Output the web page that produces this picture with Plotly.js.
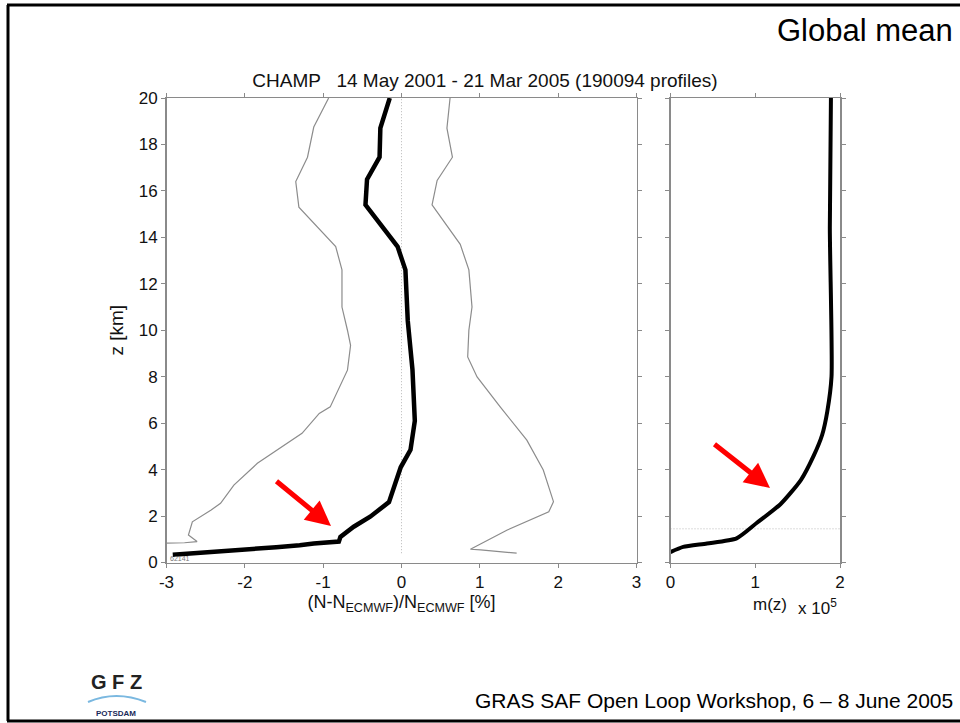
<!DOCTYPE html>
<html>
<head>
<meta charset="utf-8">
<script src="https://cdn.plot.ly/plotly-3.0.1.min.js"></script>
<style>html,body{margin:0;padding:0;background:#fff;}#chart{width:960px;height:723px;}</style>
</head>
<body>
<div id="chart"></div>
<script>
// ---- data ----
// mean relative refractivity deviation (thick line)
const meanZ = [20, 18.7, 17.45, 16.5, 15.4, 13.6, 12.6, 10.4, 8.3, 6.1, 4.85, 4.1, 3.4, 2.6, 1.97, 1.54, 1.1, 0.9, 0.82, 0.74, 0.66, 0.58, 0.5, 0.42, 0.33];
const meanX = [-0.15, -0.27, -0.28, -0.44, -0.46, -0.05, 0.05, 0.08, 0.14, 0.17, 0.115, -0.01, -0.08, -0.16, -0.40, -0.61, -0.78, -0.80, -1.12, -1.3, -1.6, -1.95, -2.3, -2.6, -2.92];
// mean minus standard deviation (thin left line)
const lowZ = [20, 18.75, 17.45, 16.4, 15.3, 13.6, 12.6, 11.0, 10.0, 9.35, 8.28, 6.7, 6.42, 5.56, 4.27, 3.33, 2.55, 2.26, 1.75, 1.18, 0.9, 0.85, 0.83];
const lowX = [-0.93, -1.12, -1.20, -1.35, -1.31, -0.84, -0.76, -0.76, -0.69, -0.65, -0.69, -0.91, -1.05, -1.27, -1.84, -2.14, -2.31, -2.43, -2.67, -2.72, -2.61, -2.77, -3.0];
// mean plus standard deviation (thin right line)
const highZ = [20, 18.7, 17.45, 16.45, 15.4, 13.7, 12.6, 11.0, 10.0, 8.85, 7.99, 6.7, 5.27, 3.98, 2.62, 2.18, 1.40, 0.57, 0.54, 0.40];
const highX = [0.62, 0.58, 0.65, 0.455, 0.39, 0.75, 0.86, 0.90, 0.86, 0.845, 0.965, 1.26, 1.60, 1.81, 1.94, 1.88, 1.35, 0.88, 1.01, 1.47];
// number of data m(z), in units of 1e5
const mZ = [20, 14.4, 8.0, 6.5, 5.5, 4.6, 3.56, 2.52, 1.71, 1.04, 0.82, 0.67, 0.45];
const mX = [1.893, 1.88, 1.90, 1.85, 1.79, 1.69, 1.54, 1.30, 1.02, 0.78, 0.43, 0.15, 0.0];
// reference lines
const zeroLineX = [0, 0];
const zeroLineZ = [0.4, 20];
const cutLineX = [0, 2];
const cutLineZ = [1.45, 1.45];
// ticks
const leftTicks = [-3, -2, -1, 0, 1, 2, 3];
const leftTickText = ['-3', '-2', '-1', '0', '1', '2', '3'];
const rightTicks = [0, 1, 2];
const zTicks = [0, 2, 4, 6, 8, 10, 12, 14, 16, 18, 20];

const W = 960, H = 723;
const px = v => v / W;
const py = v => 1 - v / H;
const ff = 'Liberation Sans, Arial, sans-serif';

const axisCommon = {
  showline: true, mirror: 'ticks', linecolor: '#8a8a8a', linewidth: 1.5,
  ticks: 'outside', ticklen: 4, tickcolor: '#8a8a8a', tickwidth: 1,
  showgrid: false, zeroline: false,
  tickfont: {family: ff, size: 17, color: '#111'}
};

const traces = [
  {x: zeroLineX, y: zeroLineZ, xaxis: 'x', yaxis: 'y', mode: 'lines', line: {color: '#b8b8b8', width: 1, dash: '1px,2px'}, hoverinfo: 'skip'},
  {x: lowX, y: lowZ, xaxis: 'x', yaxis: 'y', mode: 'lines', line: {color: '#8c8c8c', width: 1.2}},
  {x: highX, y: highZ, xaxis: 'x', yaxis: 'y', mode: 'lines', line: {color: '#8c8c8c', width: 1.2}},
  {x: meanX, y: meanZ, xaxis: 'x', yaxis: 'y', mode: 'lines', line: {color: '#000', width: 4.5}},
  {x: cutLineX, y: cutLineZ, xaxis: 'x2', yaxis: 'y2', mode: 'lines', line: {color: '#b8b8b8', width: 1, dash: '1px,2px'}, hoverinfo: 'skip'},
  {x: mX, y: mZ, xaxis: 'x2', yaxis: 'y2', mode: 'lines', line: {color: '#000', width: 4, shape: 'spline', smoothing: 0.6}}
];

const layout = {
  width: W, height: H,
  margin: {l: 0, r: 0, t: 0, b: 0, autoexpand: false},
  paper_bgcolor: '#fff', plot_bgcolor: '#fff',
  showlegend: false,
  title: {text: 'CHAMP   14 May 2001 - 21 Mar 2005 (190094 profiles)', font: {family: ff, size: 19, color: '#111'}, x: 485 / W, xanchor: 'center', y: py(80), yanchor: 'middle'},
  xaxis: Object.assign({}, axisCommon, {
    domain: [px(166.5), px(636.5)], range: [-3, 3], tickvals: leftTicks, ticktext: leftTickText, anchor: 'y',
    title: {text: '(N-N<sub>ECMWF</sub>)/N<sub>ECMWF</sub> [%]', font: {family: ff, size: 18, color: '#111'}, standoff: 3}
  }),
  yaxis: Object.assign({}, axisCommon, {
    domain: [1 - 562.5 / H, 1 - 98 / H], range: [0, 20], tickvals: zTicks, anchor: 'x',
    title: {text: 'z [km]', font: {family: ff, size: 19, color: '#111'}, standoff: 10}
  }),
  xaxis2: Object.assign({}, axisCommon, {
    domain: [px(670.5), px(840)], range: [0, 2], tickvals: rightTicks, anchor: 'y2'
  }),
  yaxis2: Object.assign({}, axisCommon, {
    domain: [1 - 562.5 / H, 1 - 98 / H], range: [0, 20], tickvals: zTicks, anchor: 'x2', showticklabels: false
  }),
  annotations: [
    {xref: 'paper', yref: 'paper', x: px(770), y: py(604), xanchor: 'center', yanchor: 'middle', text: 'm(z)', showarrow: false, font: {family: ff, size: 17, color: '#111'}},
    {xref: 'paper', yref: 'paper', x: px(817), y: py(607), xanchor: 'center', yanchor: 'middle', text: 'x 10<sup>5</sup>', showarrow: false, font: {family: ff, size: 17, color: '#111'}},
    {xref: 'paper', yref: 'paper', x: px(168), y: py(558), xanchor: 'left', yanchor: 'middle', text: '62141', showarrow: false, font: {family: ff, size: 7, color: '#777'}},
    {xref: 'paper', yref: 'paper', x: px(331), y: py(526), ax: -56, ay: -46, text: '', showarrow: true, arrowhead: 2, arrowsize: 1, arrowwidth: 5, arrowcolor: '#ff0000', standoff: 0},
    {xref: 'paper', yref: 'paper', x: px(770), y: py(488), ax: -57, ay: -45, text: '', showarrow: true, arrowhead: 2, arrowsize: 1, arrowwidth: 5, arrowcolor: '#ff0000', standoff: 0},
    {xref: 'paper', yref: 'paper', x: px(955), y: py(31), xanchor: 'right', yanchor: 'middle', text: 'Global mean', showarrow: false, font: {family: ff, size: 31, color: '#000'}},
    {xref: 'paper', yref: 'paper', x: px(955), y: py(700), xanchor: 'right', yanchor: 'middle', text: 'GRAS SAF Open Loop Workshop, 6 – 8 June 2005', showarrow: false, font: {family: ff, size: 21, color: '#000'}},
    {xref: 'paper', yref: 'paper', x: px(116), y: py(682), xanchor: 'center', yanchor: 'middle', text: '<b>G F Z</b>', showarrow: false, font: {family: ff, size: 20, color: '#222'}},
    {xref: 'paper', yref: 'paper', x: px(116), y: py(713), xanchor: 'center', yanchor: 'middle', text: '<b>POTSDAM</b>', showarrow: false, font: {family: ff, size: 8, color: '#1a2a5a'}}
  ],
  shapes: [
    {type: 'line', xref: 'paper', yref: 'paper', x0: px(8), x1: px(8), y0: py(5), y1: py(721), line: {color: '#000', width: 3}},
    {type: 'line', xref: 'paper', yref: 'paper', x0: px(7), x1: 1, y0: py(5), y1: py(5), line: {color: '#000', width: 3}},
    {type: 'line', xref: 'paper', yref: 'paper', x0: px(7), x1: 1, y0: py(721), y1: py(721), line: {color: '#000', width: 3}},
    {type: 'path', xref: 'paper', yref: 'paper', path: 'M ' + px(88) + ' ' + py(702) + ' Q ' + px(116) + ' ' + py(690) + ' ' + px(146) + ' ' + py(702), line: {color: '#7ab8e0', width: 2}}
  ]
};

Plotly.newPlot('chart', traces, layout, {staticPlot: true, displayModeBar: false});
</script>
</body>
</html>
